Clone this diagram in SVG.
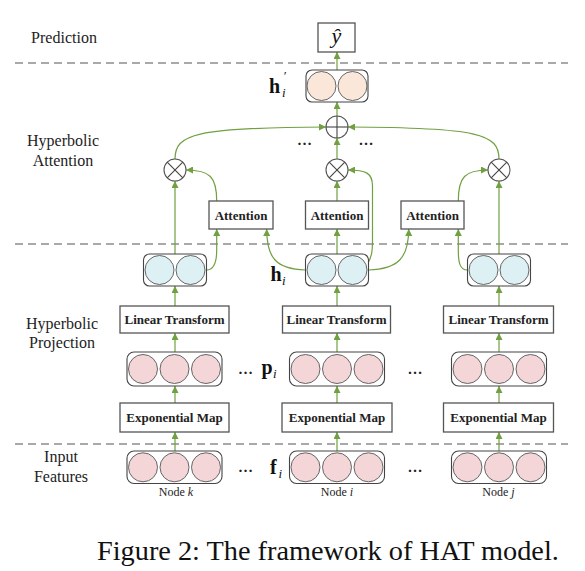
<svg xmlns="http://www.w3.org/2000/svg" width="585" height="571" viewBox="0 0 585 571">
<defs>
<style>
.bg{fill:#fff}
.dash{stroke:#555;stroke-width:1.2;stroke-dasharray:8,5;fill:none}
.lbl{font-family:"Liberation Serif",serif;font-size:16px;fill:#222;text-anchor:middle}
.box{fill:#fff;stroke:#555;stroke-width:1.3}
.vec{fill:#fff;stroke:#444;stroke-width:1.1}
.pink{fill:#F4D6D9;stroke:#666;stroke-width:1}
.cyan{fill:#DDF1F5;stroke:#666;stroke-width:1}
.peach{fill:#FBE7DA;stroke:#666;stroke-width:1}
.bt{font-family:"Liberation Serif",serif;font-weight:bold;font-size:13px;fill:#222;text-anchor:middle}
.op{fill:#fff;stroke:#555;stroke-width:1.1}
.opl{stroke:#444;stroke-width:1.1}
.conn{fill:none;stroke:#70A040;stroke-width:1.2;marker-end:url(#ah)}
.math{font-family:"Liberation Serif",serif;font-weight:bold;font-size:20px;fill:#111}
.sub{font-family:"Liberation Serif",serif;font-style:italic;font-size:13px;fill:#111}
.dots{font-family:"Liberation Serif",serif;font-weight:bold;font-size:15px;fill:#222;text-anchor:middle}
.node{font-family:"Liberation Serif",serif;font-size:12px;fill:#222;text-anchor:middle}
</style>
<marker id="ah" viewBox="0 0 10 10" refX="10" refY="5" markerWidth="8" markerHeight="7" markerUnits="userSpaceOnUse" orient="auto">
<path d="M0,0 L10,5 L0,10 z" fill="#70A040"/>
</marker>
</defs>
<rect class="bg" x="0" y="0" width="585" height="571"/>

<g id="dividers">
<line class="dash" x1="15" y1="63" x2="568" y2="63"/>
<line class="dash" x1="15" y1="244" x2="568" y2="244"/>
<line class="dash" x1="15" y1="444" x2="568" y2="444"/>
</g>

<g id="stage-labels">
<text class="lbl" x="64" y="43">Prediction</text>
<text class="lbl" x="63" y="146">Hyperbolic</text>
<text class="lbl" x="63" y="166">Attention</text>
<text class="lbl" x="62" y="329">Hyperbolic</text>
<text class="lbl" x="62" y="348">Projection</text>
<text class="lbl" x="61" y="462">Input</text>
<text class="lbl" x="61" y="482">Features</text>
</g>

<g id="connectors">
<path class="conn" d="M337,70 L337,52"/>
<path class="conn" d="M337,116 L337,102"/>
<path class="conn" d="M337,159 L337,138"/>
<path class="conn" d="M175,159 C175,134 195,127.5 326,127"/>
<path class="conn" d="M499,159 C499,134 479,127.5 348,127"/>
<path class="conn" d="M216.7,201 C216.7,177 210,170 186,170"/>
<path class="conn" d="M458.3,201 C458.3,177 465,170 488,170"/>
<path class="conn" d="M337,201 L337,181"/>
<path class="conn" d="M175,254 L175,181"/>
<path class="conn" d="M499,254 L499,181"/>
<path class="conn" d="M337,254 L337,229"/>
<path class="conn" d="M368,263 C372,256 372.5,250 372.5,240 L372.5,186 C372.5,173 366,170 348,170"/>
<path class="conn" d="M368.5,270 C398,269 408.7,258 408.7,229"/>
<path class="conn" d="M305.5,270 C276,269 266.7,258 266.7,229"/>
<path class="conn" d="M206.5,270 C214,270 216.7,263 216.7,250 L216.7,229"/>
<path class="conn" d="M467.5,270 C460,270 458.3,263 458.3,250 L458.3,229"/>
<path class="conn" d="M175,306 L175,286"/>
<path class="conn" d="M337,306 L337,286"/>
<path class="conn" d="M499,306 L499,286"/>
<path class="conn" d="M175,352 L175,333"/>
<path class="conn" d="M337,352 L337,333"/>
<path class="conn" d="M499,352 L499,333"/>
<path class="conn" d="M175,403 L175,386"/>
<path class="conn" d="M337,403 L337,386"/>
<path class="conn" d="M499,403 L499,386"/>
<path class="conn" d="M175,451 L175,432"/>
<path class="conn" d="M337,451 L337,432"/>
<path class="conn" d="M499,451 L499,432"/>
</g>

<g id="y-hat">
<rect class="box" x="318" y="23" width="37" height="29"/>
<text x="336.5" y="43" font-family="'Liberation Serif',serif" font-style="italic" font-size="22" text-anchor="middle" fill="#111">ŷ</text>
</g>

<g id="h-prime">
<rect class="vec" x="306" y="70" width="62" height="32" rx="6"/>
<circle class="peach" cx="321.5" cy="86" r="14.5"/>
<circle class="peach" cx="352.5" cy="86" r="14.5"/>
<text class="math" x="269" y="93">h</text>
<text class="sub" x="283" y="80" font-style="normal">′</text>
<text class="sub" x="282" y="97">i</text>
</g>

<g id="oplus">
<circle class="op" cx="337" cy="127" r="11"/>
<line class="opl" x1="326" y1="127" x2="348" y2="127"/>
<line class="opl" x1="337" y1="116" x2="337" y2="138"/>
</g>

<g id="otimes-k">
<circle class="op" cx="175" cy="170" r="11"/>
<line class="opl" x1="167.2" y1="162.2" x2="182.8" y2="177.8"/>
<line class="opl" x1="182.8" y1="162.2" x2="167.2" y2="177.8"/>
</g>
<g id="otimes-i">
<circle class="op" cx="337" cy="170" r="11"/>
<line class="opl" x1="329.2" y1="162.2" x2="344.8" y2="177.8"/>
<line class="opl" x1="344.8" y1="162.2" x2="329.2" y2="177.8"/>
</g>
<g id="otimes-j">
<circle class="op" cx="499" cy="170" r="11"/>
<line class="opl" x1="491.2" y1="162.2" x2="506.8" y2="177.8"/>
<line class="opl" x1="506.8" y1="162.2" x2="491.2" y2="177.8"/>
</g>

<g id="att-dots">
<text class="dots" x="304.5" y="145">…</text>
<text class="dots" x="366" y="145">…</text>
</g>

<g id="attention-k">
<rect class="box" x="209" y="201" width="64" height="28"/>
<text class="bt" x="241" y="219.5">Attention</text>
</g>
<g id="attention-i">
<rect class="box" x="305.5" y="201" width="63" height="28"/>
<text class="bt" x="337" y="219.5">Attention</text>
</g>
<g id="attention-j">
<rect class="box" x="401" y="201" width="63" height="28"/>
<text class="bt" x="432.5" y="219.5">Attention</text>
</g>

<g id="h-k">
<rect class="vec" x="143.5" y="254" width="63" height="32" rx="6"/>
<circle class="cyan" cx="159.5" cy="270" r="14.5"/>
<circle class="cyan" cx="190.5" cy="270" r="14.5"/>
</g>
<g id="h-i">
<rect class="vec" x="305.5" y="254" width="63" height="32" rx="6"/>
<circle class="cyan" cx="321.5" cy="270" r="14.5"/>
<circle class="cyan" cx="352.5" cy="270" r="14.5"/>
<text class="math" x="270.5" y="281">h</text>
<text class="sub" x="282" y="285">i</text>
</g>
<g id="h-j">
<rect class="vec" x="467.5" y="254" width="63" height="32" rx="6"/>
<circle class="cyan" cx="483.5" cy="270" r="14.5"/>
<circle class="cyan" cx="514.5" cy="270" r="14.5"/>
</g>

<g id="linear-k">
<rect class="box" x="120" y="306" width="109" height="27"/>
<text class="bt" x="174.5" y="324">Linear Transform</text>
</g>
<g id="linear-i">
<rect class="box" x="282.5" y="306" width="108" height="27"/>
<text class="bt" x="336.5" y="324">Linear Transform</text>
</g>
<g id="linear-j">
<rect class="box" x="443.5" y="306" width="110" height="27"/>
<text class="bt" x="498.5" y="324">Linear Transform</text>
</g>

<g id="p-k">
<rect class="vec" x="127" y="352" width="95" height="34" rx="7"/>
<circle class="pink" cx="143" cy="369" r="14.5"/>
<circle class="pink" cx="174.5" cy="369" r="14.5"/>
<circle class="pink" cx="206" cy="369" r="14.5"/>
</g>
<g id="p-i">
<rect class="vec" x="289.5" y="352" width="95" height="34" rx="7"/>
<circle class="pink" cx="305.5" cy="369" r="14.5"/>
<circle class="pink" cx="337" cy="369" r="14.5"/>
<circle class="pink" cx="368.5" cy="369" r="14.5"/>
<text class="math" x="261.5" y="374">p</text>
<text class="sub" x="273" y="378">i</text>
</g>
<g id="p-j">
<rect class="vec" x="451.5" y="352" width="95" height="34" rx="7"/>
<circle class="pink" cx="467.5" cy="369" r="14.5"/>
<circle class="pink" cx="499" cy="369" r="14.5"/>
<circle class="pink" cx="530.5" cy="369" r="14.5"/>
</g>
<g id="p-dots">
<text class="dots" x="245.5" y="374">…</text>
<text class="dots" x="415" y="374">…</text>
</g>

<g id="expmap-k">
<rect class="box" x="120" y="403" width="109" height="29"/>
<text class="bt" x="174.5" y="421.5">Exponential Map</text>
</g>
<g id="expmap-i">
<rect class="box" x="282" y="403" width="110" height="29"/>
<text class="bt" x="337" y="421.5">Exponential Map</text>
</g>
<g id="expmap-j">
<rect class="box" x="443.5" y="403" width="110" height="29"/>
<text class="bt" x="498.5" y="421.5">Exponential Map</text>
</g>

<g id="f-k">
<rect class="vec" x="127" y="451" width="95" height="32.5" rx="7"/>
<circle class="pink" cx="143" cy="467.3" r="14.5"/>
<circle class="pink" cx="174.5" cy="467.3" r="14.5"/>
<circle class="pink" cx="206" cy="467.3" r="14.5"/>
<text class="node" x="176" y="496">Node <tspan font-style="italic">k</tspan></text>
</g>
<g id="f-i">
<rect class="vec" x="289.5" y="451" width="95" height="32.5" rx="7"/>
<circle class="pink" cx="305.5" cy="467.3" r="14.5"/>
<circle class="pink" cx="337" cy="467.3" r="14.5"/>
<circle class="pink" cx="368.5" cy="467.3" r="14.5"/>
<text class="math" x="270" y="474">f</text>
<text class="sub" x="278.5" y="478">i</text>
<text class="node" x="337" y="496">Node <tspan font-style="italic">i</tspan></text>
</g>
<g id="f-j">
<rect class="vec" x="451.5" y="451" width="95" height="32.5" rx="7"/>
<circle class="pink" cx="467.5" cy="467.3" r="14.5"/>
<circle class="pink" cx="499" cy="467.3" r="14.5"/>
<circle class="pink" cx="530.5" cy="467.3" r="14.5"/>
<text class="node" x="498.5" y="496">Node <tspan font-style="italic">j</tspan></text>
</g>
<g id="f-dots">
<text class="dots" x="245.5" y="472">…</text>
<text class="dots" x="415" y="472">…</text>
</g>

<text x="97" y="560" font-family="'Liberation Serif',serif" font-size="28.3" fill="#111">Figure 2: The framework of HAT model.</text>
</svg>
